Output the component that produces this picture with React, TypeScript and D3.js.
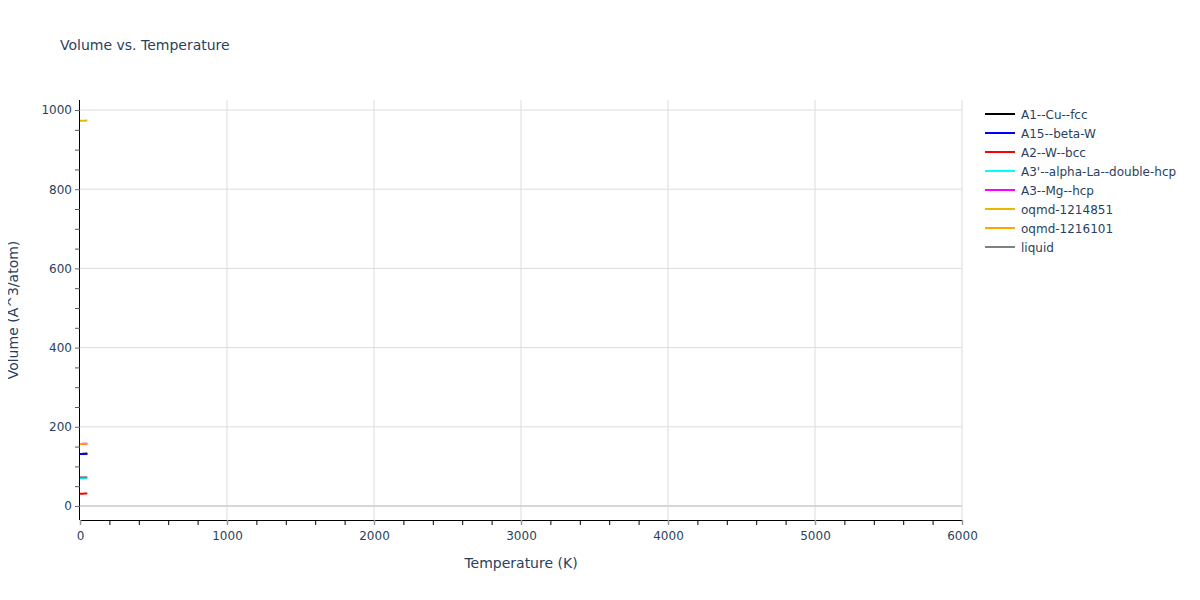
import { useEffect, useRef } from "react";
import * as d3 from "d3";

// series: temperature (K) and volume (Å^3/atom)
const phases = [
  "A1--Cu--fcc",
  "A15--beta-W",
  "A2--W--bcc",
  "A3'--alpha-La--double-hcp",
  "A3--Mg--hcp",
  "oqmd-1214851",
  "oqmd-1216101",
  "liquid",
];
const colors = ["black", "blue", "red", "cyan", "magenta", "#e6b800", "orange", "grey"];
const temps = [0, 10, 20, 30, 40, 50];
const volumes: number[][] = [
  [131.5, 131.5, 131.6, 131.6, 131.7, 131.7],
  [131.4, 131.4, 131.5, 131.5, 131.6, 131.7],
  [31.2, 31.2, 31.2, 31.3, 31.3, 31.3],
  [70.0, 70.0, 70.1, 70.1, 70.2, 70.2],
  [156.8, 156.8, 156.9, 156.9, 157.0, 157.1],
  [973.0, 973.0, 973.1, 973.2, 973.3, 973.4],
  [156.8, 156.8, 156.9, 156.9, 157.0, 157.1],
  [72.5, 72.5, 72.6, 72.6, 72.7, 72.8],
];
const xTicks = [0, 1000, 2000, 3000, 4000, 5000, 6000];
const yTicks = [0, 200, 400, 600, 800, 1000];

const App = () => {
  const ref = useRef(null);

  useEffect(() => {
    if (!ref.current) return;
    const svg = d3.select(ref.current);
    svg.selectAll("*").remove();

    const width = 1200;
    const height = 600;
    const margin = { top: 100, right: 238, bottom: 80, left: 80 };
    const font = "'DejaVu Sans', verdana, sans-serif";
    const textColor = "#2a3f5f";

    svg.attr("viewBox", [0, 0, width, height]).attr("width", width).attr("height", height);
    svg.append("rect").attr("width", width).attr("height", height).attr("fill", "white");

    const x = d3.scaleLinear().domain([0, 6000]).range([margin.left, width - margin.right]);
    const y = d3.scaleLinear().domain([-35.4, 1025.3]).range([height - margin.bottom, margin.top]);

    // grid
    svg
      .append("g")
      .selectAll("line")
      .data(xTicks.filter((d) => d > 0))
      .join("line")
      .attr("x1", (d) => x(d))
      .attr("x2", (d) => x(d))
      .attr("y1", margin.top)
      .attr("y2", height - margin.bottom)
      .attr("stroke", "#dcdcdc")
      .attr("stroke-width", 1);
    svg
      .append("g")
      .selectAll("line")
      .data(yTicks.filter((d) => d > 0))
      .join("line")
      .attr("x1", margin.left)
      .attr("x2", width - margin.right)
      .attr("y1", (d) => y(d))
      .attr("y2", (d) => y(d))
      .attr("stroke", "#dcdcdc")
      .attr("stroke-width", 1);
    svg
      .append("line")
      .attr("x1", margin.left)
      .attr("x2", width - margin.right)
      .attr("y1", y(0))
      .attr("y2", y(0))
      .attr("stroke", "#d6d6d6")
      .attr("stroke-width", 2);

    // lines
    const line = d3
      .line<number>()
      .x((_, i) => x(temps[i]))
      .y((d) => y(d));
    volumes.forEach((v, i) => {
      svg
        .append("path")
        .attr("fill", "none")
        .attr("stroke", colors[i])
        .attr("stroke-width", 2)
        .attr("d", line(v));
    });

    // x axis
    const gx = svg.append("g").attr("transform", `translate(0,${height - margin.bottom})`);
    gx.call(
      d3
        .axisBottom(x)
        .tickValues(d3.range(0, 6001, 200).filter((d) => d % 1000 !== 0))
        .tickSize(5)
        .tickFormat(() => "")
    );
    gx.select(".domain").attr("stroke", "black").attr("d", `M${margin.left},0.5H${width - margin.right}`);
    gx.selectAll(".tick line").attr("stroke", "black");
    const gxMaj = svg.append("g").attr("transform", `translate(0,${height - margin.bottom})`);
    gxMaj.call(d3.axisBottom(x).tickValues(xTicks).tickSize(5).tickPadding(6).tickFormat(d3.format("d")));
    gxMaj.select(".domain").remove();
    gxMaj.selectAll(".tick line").attr("stroke", "#999").attr("stroke-width", 1.5);
    gxMaj
      .selectAll(".tick text")
      .attr("fill", textColor)
      .attr("font-family", font)
      .attr("font-size", 12);

    // y axis
    const gy = svg.append("g").attr("transform", `translate(${margin.left},0)`);
    gy.call(
      d3
        .axisLeft(y)
        .tickValues(d3.range(0, 1001, 50).filter((d) => d % 200 !== 0))
        .tickSize(5)
        .tickFormat(() => "")
    );
    gy.select(".domain").attr("stroke", "black").attr("d", `M-0.5,${margin.top}V${height - margin.bottom}`);
    gy.selectAll(".tick line").attr("stroke", "#555");
    const gyMaj = svg.append("g").attr("transform", `translate(${margin.left},0)`);
    gyMaj.call(d3.axisLeft(y).tickValues(yTicks).tickSize(5).tickPadding(3).tickFormat(d3.format("d")));
    gyMaj.select(".domain").remove();
    gyMaj.selectAll(".tick line").attr("stroke", "#666");
    gyMaj
      .selectAll(".tick text")
      .attr("fill", textColor)
      .attr("font-family", font)
      .attr("font-size", 12);

    // title and axis labels
    svg
      .append("text")
      .attr("x", 60)
      .attr("y", 50)
      .attr("fill", textColor)
      .attr("font-family", font)
      .attr("font-size", 14)
      .text("Volume vs. Temperature");
    svg
      .append("text")
      .attr("x", (margin.left + width - margin.right) / 2)
      .attr("y", 568)
      .attr("text-anchor", "middle")
      .attr("fill", textColor)
      .attr("font-family", font)
      .attr("font-size", 14)
      .text("Temperature (K)");
    svg
      .append("text")
      .attr("transform", `translate(18,${(margin.top + height - margin.bottom) / 2}) rotate(-90)`)
      .attr("text-anchor", "middle")
      .attr("fill", textColor)
      .attr("font-family", font)
      .attr("font-size", 14)
      .text("Volume (Å^3/atom)");

    // legend
    const legend = svg
      .append("g")
      .selectAll("g")
      .data(phases)
      .join("g")
      .attr("transform", (_, i) => `translate(985,${114 + i * 19})`);
    legend
      .append("line")
      .attr("x1", 0)
      .attr("x2", 30)
      .attr("stroke", (_, i) => colors[i])
      .attr("stroke-width", 2);
    legend
      .append("text")
      .attr("x", 36)
      .attr("y", 4.5)
      .attr("fill", textColor)
      .attr("font-family", font)
      .attr("font-size", 12)
      .text((d) => d);
  }, []);

  return <svg ref={ref} style={{ display: "block", margin: -8 }}></svg>;
};

export default App;
